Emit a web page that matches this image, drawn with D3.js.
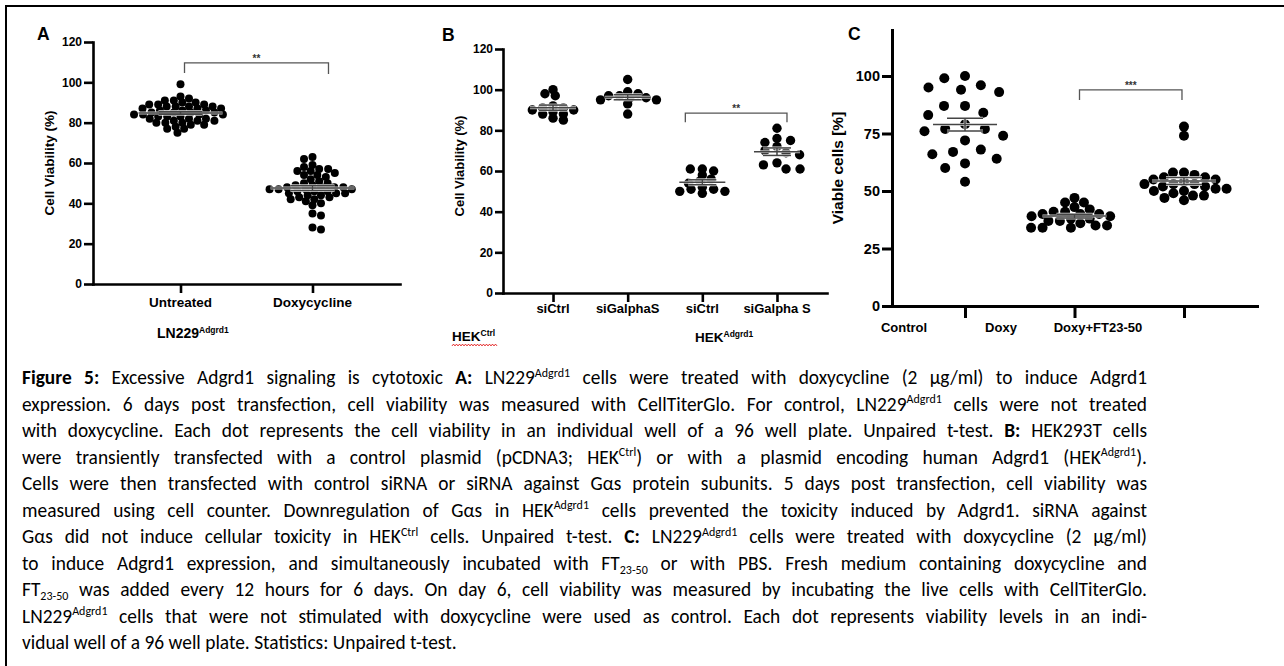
<!DOCTYPE html>
<html><head><meta charset="utf-8">
<script src="https://cdn.jsdelivr.net/npm/d3@7"></script>
<style>html,body{margin:0;padding:0;background:#fff;} svg{display:block;}</style>
</head><body>
<svg id="fig" width="1284" height="666"></svg>
<script>
// ================= DATA =================
// Panel A
const catsA = ["Untreated", "Doxycycline"];
const untreatedA = [99, 93, 92, 91, 91, 90, 90, 89, 89, 89, 88, 88, 88, 88, 87, 87, 87, 86, 86, 86, 85, 85, 85, 85, 84, 84, 84, 84, 83, 83, 83, 82, 82, 82, 81, 81, 81, 80, 80, 80, 79, 79, 78, 77, 77, 75];
const doxycyclineA = [63, 62, 59, 58, 57, 57, 56, 56, 55, 54, 54, 53, 52, 51, 50, 50, 49, 49, 48, 48, 48, 48, 47, 47, 47, 47, 46, 46, 46, 45, 45, 45, 44, 44, 43, 43, 42, 42, 41, 40, 39, 35, 34, 28, 27];
const ticksA = [0, 20, 40, 60, 80, 100, 120];
const sigA = { from: 0, to: 1, top: 109.6, legs: [104.6, 104.1], label: "**" };

// Panel B
const catsB = ["siCtrl", "siGalphaS", "siCtrl", "siGalpha S"];
const groupsB = [["HEK", "Ctrl"], ["HEK", "Adgrd1"]];
const hekCtrlSiCtrl = [100, 98, 97, 92, 91, 91, 90, 90, 89, 88, 88, 86, 85];
const hekCtrlSiGas = [105, 99, 98, 97, 97, 96, 96, 95, 95, 93, 88];
const hekAdgSiCtrl = [61, 61, 60, 58, 56, 55, 54, 52, 51, 51, 50, 50, 49];
const hekAdgSiGas = [81, 76, 75, 74, 72, 70, 69, 68, 64, 63, 61, 61];
const ticksB = [0, 20, 40, 60, 80, 100, 120];
const sigB = { from: 2, to: 3, top: 88.5, legs: [84, 84], label: "**" };

// Panel C
const catsC = ["Control", "Doxy", "Doxy+FT23-50"];
const controlC = [99, 93, 87, 79, 74, 68, 96, 87, 77, 72, 67, 62, 100, 95, 83, 76, 66, 60, 94, 84, 77, 64, 54];
const doxyC = [47, 45, 45, 43, 42, 41, 41, 40, 40, 40, 39, 39, 38, 38, 37, 37, 36, 35, 35, 34, 34, 34];
const doxyFtC = [78, 74, 58, 58, 57, 56, 56, 55, 55, 54, 53, 53, 53, 52, 52, 51, 51, 50, 50, 49, 48, 48, 47, 46];
const ticksC = [0, 25, 50, 75, 100];
const sigC = { from: 1, to: 2, top: 94, legs: [89.6, 89.6], label: "***" };

// Caption
const captionLines = [
  [["Figure 5:", "b"], [" Excessive Adgrd1 signaling is cytotoxic ", ""], ["A:", "b"], [" LN229", ""], ["Adgrd1", "sup"], [" cells were treated with doxycycline (2 µg/ml) to induce Adgrd1", ""]],
  [["expression. 6 days post transfection, cell viability was measured with CellTiterGlo. For control, LN229", ""], ["Adgrd1", "sup"], [" cells were not treated", ""]],
  [["with doxycycline. Each dot represents the cell viability in an individual well of a 96 well plate. Unpaired t-test. ", ""], ["B:", "b"], [" HEK293T cells", ""]],
  [["were transiently transfected with a control plasmid (pCDNA3; HEK", ""], ["Ctrl", "sup"], [") or with a plasmid encoding human Adgrd1 (HEK", ""], ["Adgrd1", "sup"], [").", ""]],
  [["Cells were then transfected with control siRNA or siRNA against Gαs protein subunits. 5 days post transfection, cell viability was", ""]],
  [["measured using cell counter. Downregulation of Gαs in HEK", ""], ["Adgrd1", "sup"], [" cells prevented the toxicity induced by Adgrd1. siRNA against", ""]],
  [["Gαs did not induce cellular toxicity in HEK", ""], ["Ctrl", "sup"], [" cells. Unpaired t-test. ", ""], ["C:", "b"], [" LN229", ""], ["Adgrd1", "sup"], [" cells were treated with doxycycline (2 µg/ml)", ""]],
  [["to induce Adgrd1 expression, and simultaneously incubated with FT", ""], ["23-50", "sub"], [" or with PBS. Fresh medium containing doxycycline and", ""]],
  [["FT", ""], ["23-50", "sub"], [" was added every 12 hours for 6 days. On day 6, cell viability was measured by incubating the live cells with CellTiterGlo.", ""]],
  [["LN229", ""], ["Adgrd1", "sup"], [" cells that were not stimulated with doxycycline were used as control. Each dot represents viability levels in an indi-", ""]],
  [["vidual well of a 96 well plate. Statistics: Unpaired t-test.", ""]]
];

// ================= DRAWING =================
const svg = d3.select("#fig");
const FONT = "'Liberation Sans', Arial, Helvetica, sans-serif";
const CAPFONT = "Carlito, Calibri, Lato, 'Open Sans', sans-serif";

svg.append("path").attr("d", "M6,667V6H1285").attr("fill", "none").attr("stroke", "#000").attr("stroke-width", 2);

function swarm(values, y, W, H) {
  const order = values.map((v, i) => ({ v, i, y: y(v) })).sort((a, b) => a.y - b.y);
  const placed = [];
  order.forEach((d, k) => {
    const cands = [0];
    for (const p of placed) {
      const dy = Math.abs(p.y - d.y);
      if (dy < H) { const off = W * Math.sqrt(1 - (dy / H) ** 2); cands.push(p.x + off, p.x - off); }
    }
    const sgn = k % 2 ? 1 : -1;
    cands.sort((a, b) => (Math.abs(a) - Math.abs(b)) || (sgn * (a - b)));
    for (const c of cands) {
      let ok = true;
      for (const p of placed) {
        const dx = (c - p.x) / W, dy = (d.y - p.y) / H;
        if (dx * dx + dy * dy < 0.999) { ok = false; break; }
      }
      if (ok) { d.x = c; break; }
    }
    placed.push(d);
  });
  return placed;
}

function supLabel(g, x, y, base, sup, size, supSize, anchor) {
  const t = g.append("text").attr("x", x).attr("y", y).attr("font-family", FONT)
    .attr("font-weight", "bold").attr("font-size", size).attr("fill", "#000").attr("text-anchor", anchor || "start");
  t.append("tspan").text(base);
  t.append("tspan").attr("dy", -size * 0.38).attr("font-size", supSize).text(sup);
  return t;
}

function panel(cfg) {
  const g = svg.append("g");
  const idx = d3.range(cfg.labels.length);
  const x = d3.scalePoint().domain(idx).range(cfg.xRange).padding(cfg.pad);
  const y = d3.scaleLinear().domain([0, 120]).range(cfg.yRange);

  const ya = g.append("g").attr("transform", `translate(${cfg.xRange[0]},0)`)
    .call(d3.axisLeft(y).tickValues(cfg.ticks).tickSize(cfg.tickLen).tickSizeOuter(0).tickPadding(2));
  ya.attr("font-family", FONT);
  ya.select(".domain").attr("stroke-width", cfg.axisW).attr("stroke-linecap", "square");
  ya.selectAll(".tick line").attr("stroke-width", cfg.axisW);
  ya.selectAll(".tick text").attr("font-family", FONT).attr("font-weight", "bold")
    .attr("font-size", cfg.tickFont).attr("fill", "#000");

  const xa = g.append("g").attr("transform", `translate(0,${cfg.yRange[0]})`)
    .call(d3.axisBottom(x).tickSize(cfg.xTickLen).tickSizeOuter(0).tickFormat(""));
  xa.select(".domain").attr("stroke-width", cfg.axisW).attr("stroke-linecap", "square");
  xa.selectAll(".tick line").attr("stroke-width", cfg.axisW);

  const lx = cfg.labelRange ? d3.scalePoint().domain(idx).range(cfg.labelRange) : x;
  g.selectAll("text.cat").data(cfg.labels).join("text").attr("class", "cat")
    .attr("x", (d, i) => lx(i)).attr("y", cfg.catY).attr("text-anchor", "middle")
    .attr("font-family", FONT).attr("font-weight", "bold").attr("font-size", cfg.catFont).attr("fill", "#000")
    .text(d => d);

  cfg.series.forEach((vals, i) => {
    const [W, H] = cfg.swarm[i];
    const pts = swarm(vals, y, W, H);
    g.append("g").selectAll("circle").data(pts).join("circle")
      .attr("cx", d => x(i) + d.x).attr("cy", d => d.y).attr("r", cfg.r).attr("fill", "#000");
  });

  cfg.series.forEach((vals, i) => {
    const m = d3.mean(vals), se = d3.deviation(vals) / Math.sqrt(vals.length);
    const cx = x(i);
    const segs = [
      [cx - cfg.meanHalf, y(m), cx + cfg.meanHalf, y(m)],
      [cx, y(m - se), cx, y(m + se)],
      [cx - cfg.capHalf, y(m + se), cx + cfg.capHalf, y(m + se)],
      [cx - cfg.capHalf, y(m - se), cx + cfg.capHalf, y(m - se)]
    ];
    const eg = g.append("g");
    eg.selectAll("line.halo").data(segs).join("line").attr("class", "halo")
      .attr("x1", d => d[0]).attr("y1", d => d[1]).attr("x2", d => d[2]).attr("y2", d => d[3])
      .attr("stroke", "#fff").attr("stroke-width", 3).attr("opacity", 0.8);
    eg.selectAll("line.ln").data(segs).join("line").attr("class", "ln")
      .attr("x1", d => d[0]).attr("y1", d => d[1]).attr("x2", d => d[2]).attr("y2", d => d[3])
      .attr("stroke", "#444").attr("stroke-width", 1.5);
  });

  const s = cfg.sig;
  const bx0 = x(s.from) + cfg.sigDx[0], bx1 = x(s.to) + cfg.sigDx[1];
  g.append("path")
    .attr("d", `M${bx0},${y(s.legs[0])}V${y(s.top)}H${bx1}V${y(s.legs[1])}`)
    .attr("fill", "none").attr("stroke", "#555").attr("stroke-width", 1.3);
  g.append("text").attr("x", (bx0 + bx1) / 2).attr("y", y(s.top) - 1).attr("text-anchor", "middle")
    .attr("font-family", FONT).attr("font-weight", "bold").attr("font-size", 10).attr("fill", "#333").text(s.label);

  g.append("text").attr("transform", `translate(${cfg.yTitle[0]},${cfg.yTitle[1]}) rotate(-90)`)
    .attr("text-anchor", "middle").attr("font-family", FONT).attr("font-weight", "bold")
    .attr("font-size", cfg.yTitleFont).attr("fill", "#000").text(cfg.yTitleText);

  g.append("text").attr("x", cfg.letterPos[0]).attr("y", cfg.letterPos[1]).attr("font-family", FONT)
    .attr("font-weight", "bold").attr("font-size", 17.5).attr("fill", "#000").text(cfg.letter);
  return g;
}

// Panel A
const gA = panel({
  labels: catsA, series: [untreatedA, doxycyclineA], ticks: ticksA, sig: sigA,
  xRange: [93, 400], yRange: [284, 42], pad: 0.663, tickLen: 9, tickFont: 12, axisW: 2.6,
  xTickLen: 9, catY: 307, catFont: 13.5, r: 4, swarm: [[9, 6], [9, 6]], meanHalf: 42, capHalf: 22,
  sigDx: [4, 16], yTitle: [54, 163], yTitleFont: 13.5, yTitleText: "Cell Viability (%)",
  letter: "A", letterPos: [37, 40]
});
supLabel(gA, 157, 338, "LN229", "Adgrd1", 14, 8.5);

// Panel B
const gB = panel({
  labels: catsB, series: [hekCtrlSiCtrl, hekCtrlSiGas, hekAdgSiCtrl, hekAdgSiGas], ticks: ticksB, sig: sigB,
  xRange: [503, 827], yRange: [293, 49], pad: 0.67, tickLen: 8, tickFont: 12, axisW: 2.6,
  xTickLen: 9, catY: 313, catFont: 13, r: 4.7, swarm: [[11, 6], [11, 6], [12, 6], [14, 8]], meanHalf: 23, capHalf: 14,
  sigDx: [-17, 10], yTitle: [464, 166], yTitleFont: 13, yTitleText: "Cell Viability (%)",
  letter: "B", letterPos: [442, 41]
});
supLabel(gB, 452, 341, groupsB[0][0], groupsB[0][1], 13.5, 8.5);
supLabel(gB, 695, 342, groupsB[1][0], groupsB[1][1], 13.5, 8.5);
gB.append("path")
  .attr("d", d3.line()(d3.range(0, 31).map(k => [452 + k * 1.5, 345 + (k % 2 ? -0.9 : 0.9)])))
  .attr("fill", "none").attr("stroke", "#e01010").attr("stroke-width", 0.9);

// Panel C
panel({
  labels: catsC, series: [controlC, doxyC, doxyFtC], ticks: ticksC, sig: sigC,
  xRange: [892, 1257], yRange: [306, 30], pad: 0.667, tickLen: 10, tickFont: 14.5, axisW: 3,
  xTickLen: 12, catY: 332, catFont: 13, r: 5, swarm: [[21, 14], [11.5, 8], [11, 8]], meanHalf: 32, capHalf: 18,
  labelRange: [904, 1098],
  sigDx: [5, -2], yTitle: [843, 168], yTitleFont: 15.5, yTitleText: "Viable cells [%]",
  letter: "C", letterPos: [848, 40]
});

// Caption
const capX = 22, capY0 = 384, capLH = 26.5, capW = 1125, capFont = 19.4;
const capTexts = captionLines.map((segs, i) => {
  const t = svg.append("text").attr("x", capX).attr("y", capY0 + i * capLH)
    .attr("font-family", CAPFONT).attr("font-size", capFont).attr("fill", "#000").style("white-space", "pre");
  let shift = 0;
  segs.forEach(([s, st]) => {
    const ts = t.append("tspan").text(s);
    const target = st === "sup" ? -7.5 : st === "sub" ? 4 : 0;
    if (target !== shift) { ts.attr("dy", target - shift); shift = target; }
    if (st === "b") ts.attr("font-weight", "bold");
    if (st === "sup" || st === "sub") ts.attr("font-size", capFont * 0.62);
  });
  return t;
});
const lsList = [];
capTexts.forEach((t, i) => {
  const str = captionLines[i].map(s => s[0]).join("");
  const nSp = (str.match(/ /g) || []).length;
  let w = t.node().getComputedTextLength();
  if (i < capTexts.length - 1) {
    let ls = 0;
    if (w > capW) {
      ls = (capW - w) / str.length;
      t.style("letter-spacing", ls + "px");
      w = t.node().getComputedTextLength();
    }
    if (w < capW && nSp) t.style("word-spacing", ((capW - w) / nSp) + "px");
    lsList.push(ls);
  } else {
    const ls = d3.mean(lsList);
    if (ls) t.style("letter-spacing", ls + "px");
  }
});
</script>
</body></html>
